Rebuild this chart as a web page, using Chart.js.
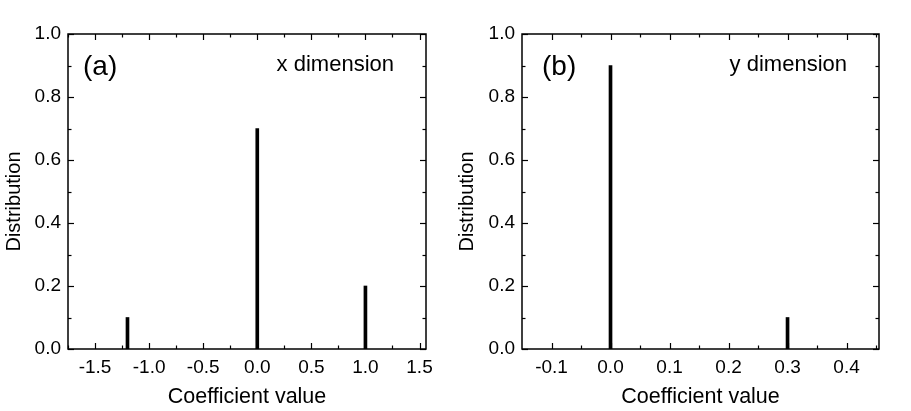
<!DOCTYPE html>
<html>
<head>
<meta charset="utf-8">
<script src="https://cdn.jsdelivr.net/npm/chart.js@4"></script>
<style>
  body { margin: 0; background: #fff; }
  .panel { position: absolute; top: 0; height: 411px; }
</style>
</head>
<body>
<div class="panel" style="left:0;width:455px"><canvas id="chartA"></canvas></div>
<div class="panel" style="left:455px;width:456px"><canvas id="chartB"></canvas></div>
<script>
// data (a) x dimension
const coefA = [-1.2, 0.0, 1.0];
const distA = [0.1, 0.7, 0.2];
const xTicksA = [-1.5, -1.0, -0.5, 0.0, 0.5, 1.0, 1.5];

// data (b) y dimension
const coefB = [0.0, 0.3];
const distB = [0.9, 0.1];
const xTicksB = [-0.1, 0.0, 0.1, 0.2, 0.3, 0.4];

const yTicks = [0.0, 0.2, 0.4, 0.6, 0.8, 1.0];
const xTitle = 'Coefficient value';
const yTitle = 'Distribution';

const FONT = 'Liberation Sans, Arial, sans-serif';

// cadre + ticks vers l'intérieur sur les 4 côtés
const framePlugin = {
  id: 'frame',
  afterDraw(chart, args, opts) {
    const ctx = chart.ctx;
    const a = chart.chartArea;
    const xs = chart.scales.x, ys = chart.scales.y;
    ctx.save();
    ctx.strokeStyle = '#000';
    ctx.lineWidth = 1.5;
    ctx.strokeRect(a.left, a.top, a.right - a.left, a.bottom - a.top);
    ctx.lineWidth = 1.2;
    const tick = (x1, y1, x2, y2) => { ctx.beginPath(); ctx.moveTo(x1, y1); ctx.lineTo(x2, y2); ctx.stroke(); };
    // x
    const xStep = opts.xStep;
    for (let v = Math.ceil(xs.min / (xStep / 2)) * xStep / 2; v <= xs.max + 1e-9; v += xStep / 2) {
      const px = Math.round(xs.getPixelForValue(v)) + 0.5;
      const major = Math.abs(v / xStep - Math.round(v / xStep)) < 1e-6;
      const len = major ? 6 : 3.5;
      tick(px, a.bottom, px, a.bottom - len);
      tick(px, a.top, px, a.top + len);
    }
    // y
    for (let v = 0; v <= 1.0001; v += 0.1) {
      const py = Math.round(ys.getPixelForValue(v)) + 0.5;
      const major = Math.round(v * 10) % 2 === 0;
      const len = major ? 6 : 3.5;
      tick(a.left, py, a.left + len, py);
      tick(a.right, py, a.right - len, py);
    }
    // textes du panneau
    ctx.fillStyle = '#000';
    ctx.font = '28px ' + FONT;
    ctx.textBaseline = 'middle';
    ctx.textAlign = 'left';
    ctx.fillText(opts.tag, a.left + opts.tagDx, a.top + 33);
    ctx.font = '22px ' + FONT;
    ctx.textBaseline = 'alphabetic';
    ctx.textAlign = 'right';
    ctx.fillText(opts.label, a.right - 32, a.top + 37);
    // titre axe y (un peu plus bas que le centre)
    ctx.save();
    ctx.translate(opts.yTitleX, (a.top + a.bottom) / 2 + 10);
    ctx.rotate(-Math.PI / 2);
    ctx.font = '20px ' + FONT;
    ctx.textAlign = 'center';
    ctx.textBaseline = 'middle';
    ctx.fillText(yTitle, 0, 0);
    ctx.restore();
    ctx.restore();
  }
};

function makeChart(id, coefs, dists, xTicks, xMin, xMax, xStep, tag, tagDx, label, yWidth, rightPad, yTitleX) {
  return new Chart(document.getElementById(id), {
    type: 'bar',
    data: {
      datasets: [{
        data: coefs.map((c, i) => ({ x: c, y: dists[i] })),
        backgroundColor: '#000',
        borderWidth: 0,
        barThickness: 3
      }]
    },
    options: {
      responsive: true,
      maintainAspectRatio: false,
      animation: false,
      layout: { padding: { left: 0, right: rightPad, top: 34, bottom: 0 } },
      plugins: {
        legend: { display: false },
        tooltip: { enabled: false },
        frame: { xStep: xStep, tag: tag, tagDx: tagDx, label: label, yTitleX: yTitleX }
      },
      scales: {
        x: {
          type: 'linear',
          offset: false,
          min: xMin,
          max: xMax,
          grid: { display: false, drawTicks: false },
          border: { display: false },
          afterBuildTicks: (s) => { s.ticks = xTicks.map(v => ({ value: v })); },
          afterFit: (s) => { s.height = 62; },
          ticks: {
            padding: 7,
            color: '#000',
            font: { family: FONT, size: 19 },
            maxRotation: 0,
            callback: (v) => v.toFixed(1)
          },
          title: {
            display: true,
            text: xTitle,
            color: '#000',
            font: { family: FONT, size: 21.5 },
            padding: { top: 0, bottom: 1 }
          }
        },
        y: {
          min: 0,
          max: 1,
          grid: { display: false, drawTicks: false },
          border: { display: false },
          afterBuildTicks: (s) => { s.ticks = yTicks.map(v => ({ value: v })); },
          afterFit: (s) => { s.width = yWidth; },
          ticks: {
            padding: 7,
            color: '#000',
            font: { family: FONT, size: 19 },
            callback: (v) => v.toFixed(1)
          },
          title: { display: false }
        }
      }
    },
    plugins: [framePlugin]
  });
}

makeChart('chartA', coefA, distA, xTicksA, -1.75, 1.56, 0.5, '(a)', 15, 'x dimension', 68, 29, 14);
makeChart('chartB', coefB, distB, xTicksB, -0.15, 0.455, 0.1, '(b)', 20, 'y dimension', 67, 32, 12);
</script>
</body>
</html>
